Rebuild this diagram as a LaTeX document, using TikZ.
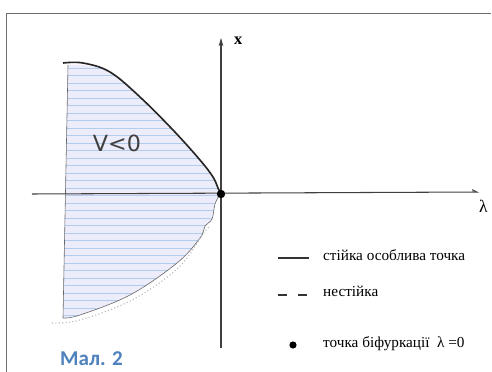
\documentclass[tikz,border=0pt]{standalone}
\usepackage{fontspec}
\setmainfont{Liberation Serif}
\newfontfamily\capfont{Carlito}
\newfontfamily\handfont{DejaVu Sans}
\usepackage{xcolor}
\usetikzlibrary{arrows.meta, positioning}
\definecolor{frm}{RGB}{110, 110, 110}
\definecolor{lav}{RGB}{236, 236, 250}
\definecolor{hatch}{RGB}{178, 204, 238}
\definecolor{capblue}{RGB}{79, 129, 189}

\begin{document}
\begin{tikzpicture}[
    x=0.03cm, y=-0.03cm,
    axis/.style={line width=0.9pt, black!75},
    stable/.style={line width=1.4pt, black!85},
    edge/.style={line width=0.5pt, black!60},
    unstable/.style={line width=0.9pt, gray!60, dotted},
    lbl/.style={font=\fontsize{13}{15}\selectfont, anchor=west, inner sep=0pt},
    key/.style={line width=1.2pt, black!80}
  ]
  \useasboundingbox (0,0) rectangle (492,372);
  % frame
  \draw[frm, line width=0.8pt] (6,372) -- (6,13) -- (491,13);

  % key points
  \coordinate (o) at (221,194);
  \coordinate (tl) at (68,65);
  \coordinate (bl) at (63,318);

  % shaded region V<0
  \begin{scope}
    \clip (tl) -- (bl)
      -- plot[smooth, tension=0.6] coordinates {(63,318) (80,315) (130,295) (177,263) (200,238) (205,226) (212,219) (215,204) (219,196)}
      -- (o)
      -- plot[smooth, tension=0.6] coordinates {(218,188) (213,177) (200,160) (173,130) (140,97) (110,72) (83,65) (68,65)}
      -- cycle;
    \fill[lav] (50,50) rectangle (230,330);
    \foreach \y in {68,75.5,...,322}
      \draw[hatch, line width=0.6pt] (55,\y) -- (225,\y);
  \end{scope}
  \draw[edge] (tl) -- (bl)
    -- plot[smooth, tension=0.6] coordinates {(63,318) (80,315) (130,295) (177,263) (200,238) (205,226) (212,219) (215,204) (219,196)};
  \draw[unstable] plot[smooth, tension=0.6] coordinates {(52,323) (80,320) (132,300) (178,268) (203,234) (210,226)};

  % axes
  \coordinate (xb) at (221,348);
  \coordinate (xt) at (221,38);
  \coordinate (ll) at (32,194);
  \coordinate (lr) at (479,192);
  \draw[axis, -{Stealth[length=7pt, width=4pt]}] (xb) -- (xt);
  \draw[axis, -{Straight Barb[left, length=4pt, width=4pt]}] (ll) -- (lr);
  \node[lbl, font=\bfseries\fontsize{14}{16}\selectfont] (xlab) at (234,41) {x};
  \node[lbl, font=\fontsize{15}{17}\selectfont] (llab) at (479,206) {λ};

  % stable branch
  \draw[stable] plot[smooth, tension=0.6] coordinates {(63,63) (83,63) (110,72) (140,97) (173,130) (200,160) (213,177) (218,188) (o)};
  \node[font=\handfont\fontsize{19}{21}\selectfont, text=black!75] (vlab) at (117,143) {V<0};
  \fill[black] (o) circle (4.2);

  % legend
  \node[lbl] (lgA) at (323,255) {стійка особлива точка};
  \node[lbl] (lgB) at (323,291) {нестійка};
  \node[lbl] (lgC) at (323,344) {точка біфуркації \ λ =0};
  \coordinate (kA1) at (278,258);
  \coordinate (kA2) at (309,258);
  \coordinate (kB1) at (278,295);
  \coordinate (kB2) at (287,295);
  \coordinate (kB3) at (298,295);
  \coordinate (kB4) at (307,295);
  \draw[key] (kA1) -- (kA2);
  \draw[key] (kB1) -- (kB2) (kB3) -- (kB4);
  \fill[black] (293,345) circle (3.6);

  \node[font=\capfont\bfseries\fontsize{18}{20}\selectfont, text=capblue, anchor=base west, inner sep=0pt] (cap) at (60,366) {Мал. 2};
\end{tikzpicture}
\end{document}
